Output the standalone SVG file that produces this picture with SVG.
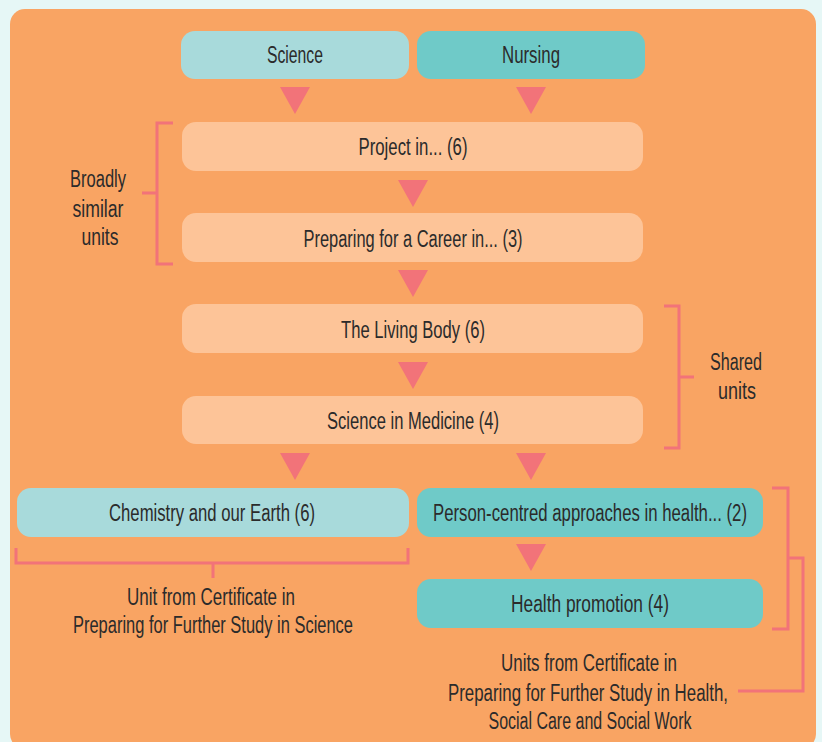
<svg xmlns="http://www.w3.org/2000/svg" width="822" height="742" viewBox="0 0 822 742">
<style>
.t{font-family:"Liberation Sans",Arial,sans-serif;font-size:23px;fill:#2b2b2b;text-anchor:middle}
.pale{fill:#fdc498}
.sci{fill:#a8dadb}
.nur{fill:#6fcac8}
.tri{fill:#f27379}
.br{fill:none;stroke:#f27379;stroke-width:3}
</style>
<rect x="0" y="0" width="822" height="742" fill="#e6f7f6"/>
<rect x="10" y="9" width="806" height="740" rx="15" fill="#f9a463"/>
<g id="connectors">
<polygon class="tri" points="280,87 310,87 295,114"/>
<polygon class="tri" points="516,87 546,87 531,114"/>
<polygon class="tri" points="398,180 428,180 413,207"/>
<polygon class="tri" points="398,270 428,270 413,297"/>
<polygon class="tri" points="398,362 428,362 413,389"/>
<polygon class="tri" points="280,453 310,453 295,480"/>
<polygon class="tri" points="516,453 546,453 531,480"/>
<polygon class="tri" points="516,544 546,544 531,571"/>
</g>
<g id="brackets">
<path class="br" d="M173,123 H157 V264 H173 M157,193 H142"/>
<path class="br" d="M664,306 H679 V448 H664 M679,377 H694"/>
<path class="br" d="M16,548 V563 H408 V548 M213,563 V578"/>
<path class="br" d="M772,488 H788 V629 H772 M788,558 H803 V691 H738"/>
</g>
<g id="science"><rect class="sci" x="181" y="31" width="228" height="48" rx="14"/><text class="t" x="295" y="63" textLength="56" lengthAdjust="spacingAndGlyphs">Science</text></g>
<g id="nursing"><rect class="nur" x="417" y="31" width="228" height="48" rx="14"/><text class="t" x="531" y="63" textLength="58" lengthAdjust="spacingAndGlyphs">Nursing</text></g>
<g id="project"><rect class="pale" x="182" y="122" width="461" height="49" rx="14"/><text class="t" x="413" y="155" textLength="109" lengthAdjust="spacingAndGlyphs">Project in... (6)</text></g>
<g id="career"><rect class="pale" x="182" y="213" width="461" height="49" rx="14"/><text class="t" x="413" y="247" textLength="219" lengthAdjust="spacingAndGlyphs">Preparing for a Career in... (3)</text></g>
<g id="living"><rect class="pale" x="182" y="304" width="461" height="49" rx="14"/><text class="t" x="413" y="338" textLength="144" lengthAdjust="spacingAndGlyphs">The Living Body (6)</text></g>
<g id="medicine"><rect class="pale" x="182" y="396" width="461" height="48" rx="14"/><text class="t" x="413" y="429" textLength="172" lengthAdjust="spacingAndGlyphs">Science in Medicine (4)</text></g>
<g id="chemistry"><rect class="sci" x="17" y="488" width="392" height="49" rx="14"/><text class="t" x="212" y="521" textLength="206" lengthAdjust="spacingAndGlyphs">Chemistry and our Earth (6)</text></g>
<g id="person"><rect class="nur" x="417" y="488" width="346" height="49" rx="14"/><text class="t" x="590" y="521" textLength="314" lengthAdjust="spacingAndGlyphs">Person-centred approaches in health... (2)</text></g>
<g id="healthpromo"><rect class="nur" x="417" y="579" width="346" height="49" rx="14"/><text class="t" x="590" y="612" textLength="158" lengthAdjust="spacingAndGlyphs">Health promotion (4)</text></g>
<g id="label-similar">
<text class="t" x="98" y="187" textLength="56" lengthAdjust="spacingAndGlyphs">Broadly</text>
<text class="t" x="98" y="217" textLength="51" lengthAdjust="spacingAndGlyphs">similar</text>
<text class="t" x="100" y="245" textLength="37" lengthAdjust="spacingAndGlyphs">units</text>
</g>
<g id="label-shared">
<text class="t" x="736" y="370" textLength="52" lengthAdjust="spacingAndGlyphs">Shared</text>
<text class="t" x="737" y="399" textLength="38" lengthAdjust="spacingAndGlyphs">units</text>
</g>
<g id="label-science-cert">
<text class="t" x="211" y="605" textLength="168" lengthAdjust="spacingAndGlyphs">Unit from Certificate in</text>
<text class="t" x="213" y="633" textLength="280" lengthAdjust="spacingAndGlyphs">Preparing for Further Study in Science</text>
</g>
<g id="label-health-cert">
<text class="t" x="589" y="671" textLength="176" lengthAdjust="spacingAndGlyphs">Units from Certificate in</text>
<text class="t" x="588" y="701" textLength="280" lengthAdjust="spacingAndGlyphs">Preparing for Further Study in Health,</text>
<text class="t" x="590" y="729" textLength="203" lengthAdjust="spacingAndGlyphs">Social Care and Social Work</text>
</g>
</svg>
